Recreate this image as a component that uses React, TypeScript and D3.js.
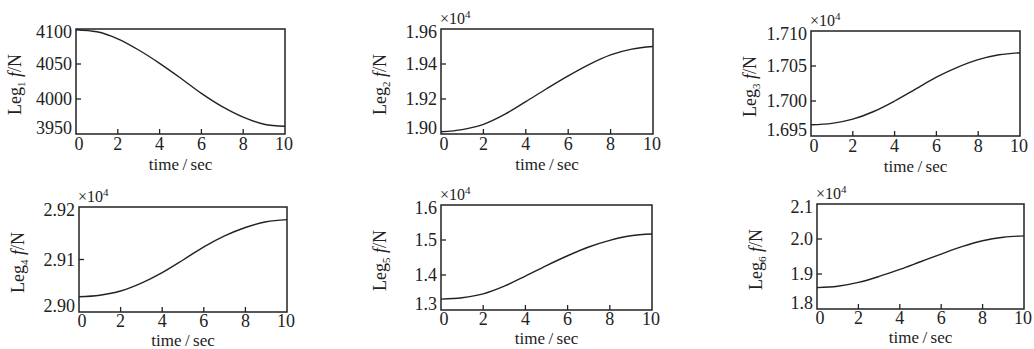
import React from "react";
import * as d3 from "d3";

const time = [0, 1, 2, 3, 4, 5, 6, 7, 8, 9, 10];
const xTicks = [0, 2, 4, 6, 8, 10];

const leg1 = [4099, 4096, 4086, 4070, 4051, 4030, 4008, 3989, 3974, 3964, 3961];
const leg2 = [1.9013, 1.9025, 1.9055, 1.9112, 1.9185, 1.926, 1.9332, 1.9398, 1.9452, 1.9485, 1.95];
const leg3 = [1.6966, 1.6968, 1.6974, 1.6985, 1.7, 1.7017, 1.7034, 1.7048, 1.7059, 1.7066, 1.7069];
const leg4 = [2.9029, 2.9032, 2.904, 2.9055, 2.9075, 2.9099, 2.9124, 2.9145, 2.9161, 2.9172, 2.9176];
const leg5 = [1.331, 1.335, 1.346, 1.368, 1.397, 1.427, 1.455, 1.48, 1.499, 1.512, 1.517];
const leg6 = [1.861, 1.865, 1.876, 1.893, 1.913, 1.935, 1.957, 1.978, 1.995, 2.005, 2.009];

const yTicks1 = [3950, 4000, 4050, 4100];
const yTicks2 = [1.9, 1.92, 1.94, 1.96];
const yTicks3 = [1.695, 1.7, 1.705, 1.71];
const yTicks4 = [2.9, 2.91, 2.92];
const yTicks5 = [1.3, 1.4, 1.5, 1.6];
const yTicks6 = [1.8, 1.9, 2.0, 2.1];

const yFormats = [".0f", ".2f", ".3f", ".2f", ".1f", ".1f"];
const hasExponent = [false, true, true, true, true, true];
const subscripts = ["1", "2", "3", "4", "5", "6"];

const seriesList = [leg1, leg2, leg3, leg4, leg5, leg6];
const tickList = [yTicks1, yTicks2, yTicks3, yTicks4, yTicks5, yTicks6];

// layout boxes (left, top, right, bottom) — layout only
const boxes = [
  [76, 29, 285, 134],
  [441, 29, 653, 134],
  [811, 31, 1020, 136],
  [79, 207, 287, 312],
  [441, 205, 652, 310],
  [817, 204, 1024, 309],
];

const FONT = "Liberation Serif, Times New Roman, serif";
const INK = "#222";

function Panel({ idx }: { idx: number }) {
  const [l, t, r, b] = boxes[idx];
  const ticks = tickList[idx];
  const data = seriesList[idx];
  const x = d3.scaleLinear().domain([0, 10]).range([l, r]);
  const y = d3
    .scaleLinear()
    .domain([ticks[0], ticks[ticks.length - 1]])
    .range([b, t]);
  const fmt = d3.format(yFormats[idx]);
  const line = d3
    .line<number>()
    .x((_, i) => x(time[i]))
    .y((d) => y(d))
    .curve(d3.curveMonotoneX);
  const path = line(data) || "";
  const cx = (l + r) / 2;
  const cy = (t + b) / 2;
  const top = idx < 3;
  const tickOff = top ? 16 : 15;
  const labelOff = top ? 36 : 34;
  return (
    <g>
      <path d={path} fill="none" stroke={INK} strokeWidth={1.4} />
      <rect x={l} y={t} width={r - l} height={b - t} fill="none" stroke={INK} strokeWidth={1.5} />
      {xTicks.map((v, i) => (
        <g key={"x" + i}>
          {i > 0 && i < xTicks.length - 1 && (
            <line x1={x(v)} x2={x(v)} y1={b} y2={b - 5} stroke={INK} strokeWidth={1.3} />
          )}
          <text
            x={i === 0 ? x(v) + 3 : i === xTicks.length - 1 ? x(v) - 1 : x(v)}
            y={b + tickOff}
            textAnchor="middle"
            fontFamily={FONT}
            fontSize={18}
            fill={INK}
          >
            {v}
          </text>
        </g>
      ))}
      {ticks.map((v, i) => {
        const py = y(v);
        const ly = Math.min(Math.max(py, t + 3), b - 6);
        return (
          <g key={"y" + i}>
            {i > 0 && i < ticks.length - 1 && (
              <line x1={l} x2={l + 5} y1={py} y2={py} stroke={INK} strokeWidth={1.3} />
            )}
            <text
              x={l - 4}
              y={ly}
              dy="0.35em"
              textAnchor="end"
              fontFamily={FONT}
              fontSize={18}
              fill={INK}
            >
              {fmt(v)}
            </text>
          </g>
        );
      })}
      {hasExponent[idx] && (
        <text x={l - 1} y={t - 5} fontFamily={FONT} fontSize={16} fill={INK}>
          ×10
          <tspan fontSize={11} dy={-6}>
            4
          </tspan>
        </text>
      )}
      <text
        x={cx}
        y={b + labelOff}
        textAnchor="middle"
        fontFamily={FONT}
        fontSize={17}
        fill={INK}
      >
        {"time\u2009/\u2009sec"}
      </text>
      <text
        transform={`translate(${l - 55},${cy + 3}) rotate(-90)`}
        textAnchor="middle"
        fontFamily={FONT}
        fontSize={18}
        fill={INK}
      >
        Leg
        <tspan fontSize={11} dy={4}>
          {subscripts[idx]}
        </tspan>
        <tspan dy={-4}> </tspan>
        <tspan fontStyle="italic">f</tspan>
        <tspan>/N</tspan>
      </text>
    </g>
  );
}

export default function App() {
  return (
    <svg
      width={1034}
      height={349}
      style={{ position: "absolute", left: 0, top: 0, background: "#fff" }}
    >
      <rect width={1034} height={349} fill="#fff" />
      {boxes.map((_, i) => (
        <Panel key={i} idx={i} />
      ))}
    </svg>
  );
}
